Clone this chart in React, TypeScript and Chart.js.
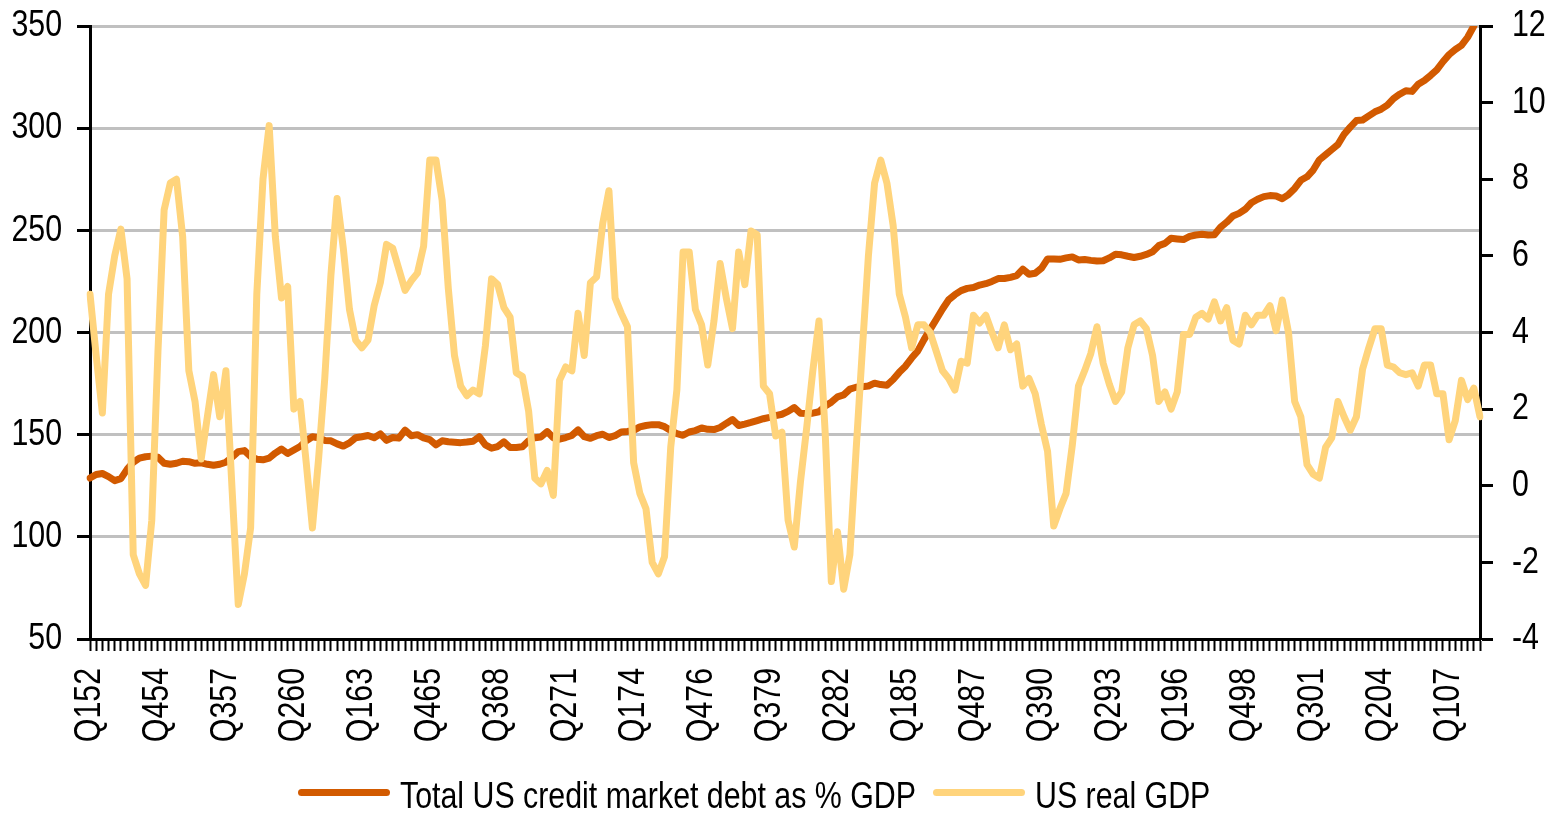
import React, { useEffect, useRef } from 'react';
import { Chart, registerables } from 'chart.js';

Chart.register(...registerables);

// Quarterly categories, Q1 1952 .. Q2 2008 (label format "Q" + quarter + 2-digit year)
const FIRST_YEAR = 1952;
const N_QUARTERS = 226;
const QUARTERS: string[] = Array.from({ length: N_QUARTERS }, (_, i) => {
  const y = FIRST_YEAR + Math.floor(i / 4);
  return `Q${(i % 4) + 1}${String(y % 100).padStart(2, '0')}`;
});
const LABEL_EVERY = 11;

// Total US credit market debt as % of GDP (left axis)
const DEBT: number[] = [
  128.8, 130.5, 131, 129.5, 127.5, 128.5, 133, 136.5, 138.5, 139.2,
  139.5, 139, 136, 135.5, 136, 137, 136.8, 136, 136.2, 135.5,
  135, 135.5, 136.5, 139, 141.7, 142.2, 139.3, 138, 137.7, 138.5,
  141, 143, 140.8, 142.5, 144.2, 147, 149, 148.5, 147.2, 147,
  145.5, 144.4, 146, 148.5, 149, 149.6, 148.5, 150.4, 147.2, 148.6,
  148.3, 152.2, 149.5, 150, 148.4, 147.6, 145, 147, 146.5, 146.3,
  146.1, 146.4, 146.8, 149, 145, 143.4, 144.2, 146.5, 143.7, 143.7,
  144.1, 147, 148.5, 148.9, 151.5, 148.5, 147.8, 148.6, 149.6, 152.3,
  149, 148.2, 149.5, 150.2, 148.6, 149.5, 151.3, 151.6, 152.1, 153.8,
  154.5, 154.9, 154.9, 153.9, 152, 150.5, 149.7, 151.3, 152, 153.3,
  152.6, 152.5, 153.5, 155.5, 157.4, 154.5, 155.2, 156, 156.9, 157.8,
  158.5, 159.3, 160, 161.4, 163.3, 160.5, 160.4, 160.5, 161.2, 164,
  165.9, 168.5, 169.5, 172.3, 173.2, 173.5, 173.8, 175.2, 174.5, 174.2,
  177, 180.5, 183.5, 187.5, 191, 196.5, 201.5, 206.5, 211.5, 216,
  218.5, 220.5, 221.6, 222, 223.2, 223.9, 225, 226.4, 226.4, 227,
  227.8, 231, 228.5, 229, 231.4, 236, 236, 235.8, 236.5, 237,
  235.5, 235.7, 235.3, 235, 235.1, 236.5, 238.3, 238, 237.3, 236.7,
  237.3, 238.2, 239.5, 242.5, 243.6, 246.1, 245.8, 245.5, 247, 247.7,
  248.1, 247.7, 247.8, 251.5, 254, 257, 258.3, 260.3, 263.5, 265.2,
  266.5, 267, 266.8, 265.5, 267.5, 270.5, 274.5, 276.2, 279.5, 284.5,
  287, 289.5, 292, 297, 300.5, 303.7, 304, 306, 308, 309.3,
  311.3, 314.5, 316.6, 318.3, 318, 321.5, 323.3, 325.8, 328.5, 332.5,
  336, 338.5, 340.5, 344.5, 350,
];

// US real GDP, % y/y (right axis)
const GDP: number[] = [
  5.0, 3.4, 1.9, 5.0, 6.0, 6.7, 5.4, -1.8, -2.3, -2.6,
  -0.9, 3.5, 7.2, 7.9, 8.0, 6.5, 3.0, 2.2, 0.7, 1.8,
  2.9, 1.8, 3.0, -0.1, -3.1, -2.3, -1.1, 5.0, 8.0, 9.4,
  6.5, 4.9, 5.2, 2.0, 2.2, 0.6, -1.1, 0.7, 2.8, 5.5,
  7.5, 6.2, 4.6, 3.8, 3.6, 3.8, 4.7, 5.3, 6.3, 6.2,
  5.65, 5.1, 5.35, 5.55, 6.25, 8.5, 8.5, 7.45, 5.15, 3.4,
  2.6, 2.35, 2.5, 2.4, 3.65, 5.4, 5.25, 4.65, 4.4, 2.95,
  2.85, 1.95, 0.2, 0.05, 0.4, -0.25, 2.75, 3.1, 3.0, 4.5,
  3.4, 5.3, 5.45, 6.85, 7.7, 4.9, 4.5, 4.15, 0.6, -0.2,
  -0.6, -2.0, -2.3, -1.85, 1.0, 2.5, 6.1, 6.1, 4.6, 4.2,
  3.15, 4.3, 5.8, 4.9, 4.1, 6.1, 5.25, 6.65, 6.55, 2.6,
  2.4, 1.3, 1.4, -0.9, -1.6, 0.1, 1.5, 3.0, 4.3, 1.4,
  -2.5, -1.2, -2.7, -1.8, 0.9, 3.5, 6.0, 7.9, 8.5, 7.9,
  6.8, 5.0, 4.4, 3.6, 4.2, 4.2, 4.0, 3.5, 3.0, 2.8,
  2.5, 3.25, 3.2, 4.45, 4.25, 4.45, 4.0, 3.6, 4.2, 3.55,
  3.7, 2.6, 2.8, 2.4, 1.6, 0.9, -1.05, -0.6, -0.2, 1.05,
  2.6, 3.0, 3.45, 4.15, 3.2, 2.65, 2.2, 2.45, 3.6, 4.2,
  4.3, 4.1, 3.4, 2.2, 2.45, 2.0, 2.45, 3.95, 3.95, 4.4,
  4.5, 4.35, 4.8, 4.3, 4.65, 3.8, 3.7, 4.45, 4.2, 4.45,
  4.45, 4.7, 4.05, 4.85, 4.0, 2.2, 1.8, 0.55, 0.3, 0.2,
  1.0, 1.25, 2.2, 1.8, 1.45, 1.8, 3.05, 3.6, 4.1, 4.1,
  3.15, 3.1, 2.95, 2.9, 2.95, 2.6, 3.15, 3.15, 2.4, 2.4,
  1.2, 1.7, 2.75, 2.25, 2.55, 1.8,
];

const SERIES_NAMES = ['Total US credit market debt as % GDP', 'US real GDP'];
const COLORS = ['#D25A00', '#FFD47C'];

const FONT_FAMILY = '"Liberation Sans Narrow", "Arial Narrow", "Liberation Sans", Arial, sans-serif';
const FONT_SIZE = 37;
const NARROW = 0.82; // horizontal condensing to mimic a narrow typeface

function drawNarrowText(
  ctx: CanvasRenderingContext2D,
  text: string,
  x: number,
  y: number,
  align: CanvasTextAlign,
  rotation: number,
) {
  ctx.save();
  ctx.translate(x, y);
  if (rotation) ctx.rotate(rotation);
  ctx.scale(NARROW, 1);
  ctx.textAlign = align;
  ctx.textBaseline = 'middle';
  ctx.fillText(text, 0, 0);
  ctx.restore();
}

// Draws the tick labels of the chart's own scales, condensed horizontally.
const narrowTickLabels = {
  id: 'narrowTickLabels',
  afterDraw(chart: any) {
    const ctx: CanvasRenderingContext2D = chart.ctx;
    const area = chart.chartArea;
    ctx.save();
    ctx.fillStyle = '#000';
    ctx.font = `${FONT_SIZE}px ${FONT_FAMILY}`;
    const ys = chart.scales.y;
    ys.ticks.forEach((t: any, i: number) => {
      drawNarrowText(ctx, String(t.label), area.left - 28, ys.getPixelForTick(i), 'right', 0);
    });
    const yr = chart.scales.y1;
    yr.ticks.forEach((t: any, i: number) => {
      drawNarrowText(ctx, String(t.label), area.right + 32, yr.getPixelForTick(i), 'left', 0);
    });
    const xs = chart.scales.x;
    xs.ticks.forEach((t: any, i: number) => {
      if (!t.label) return;
      drawNarrowText(ctx, String(t.label), xs.getPixelForTick(i), area.bottom + 29, 'right', -Math.PI / 2);
    });
    ctx.restore();
  },
};

export default function App() {
  const canvasRef = useRef<HTMLCanvasElement | null>(null);

  useEffect(() => {
    if (!canvasRef.current) return;
    const chart = new Chart(canvasRef.current, {
      type: 'line',
      data: {
        labels: QUARTERS,
        datasets: [
          {
            label: SERIES_NAMES[0],
            data: DEBT,
            yAxisID: 'y',
            borderColor: COLORS[0],
            backgroundColor: COLORS[0],
            borderWidth: 7,
            borderJoinStyle: 'round',
            borderCapStyle: 'round',
            pointRadius: 0,
            tension: 0,
            order: 1,
          },
          {
            label: SERIES_NAMES[1],
            data: GDP,
            yAxisID: 'y1',
            borderColor: COLORS[1],
            backgroundColor: COLORS[1],
            borderWidth: 7,
            borderJoinStyle: 'round',
            borderCapStyle: 'round',
            pointRadius: 0,
            tension: 0,
            order: 0,
          },
        ],
      },
      options: {
        animation: false,
        responsive: true,
        maintainAspectRatio: false,
        layout: { padding: { left: 0, right: 0, top: 26, bottom: 68 } },
        plugins: {
          legend: { display: false },
          tooltip: { enabled: false },
        },
        scales: {
          x: {
            type: 'category',
            offset: false,
            afterFit: (s: any) => { s.height = 106; },
            border: { display: true, color: '#000', width: 3 },
            grid: {
              display: true,
              drawOnChartArea: false,
              drawTicks: true,
              tickLength: 12,
              tickColor: '#000',
              tickWidth: 2,
              color: '#000',
            },
            ticks: {
              display: false,
              autoSkip: false,
              maxRotation: 90,
              minRotation: 90,
              callback: (_v: any, i: number) => (i % LABEL_EVERY === 0 ? QUARTERS[i] : ''),
            },
          },
          y: {
            position: 'left',
            min: 50,
            max: 350,
            afterFit: (s: any) => { s.width = 90; },
            border: { display: true, color: '#000', width: 3 },
            grid: {
              color: '#C0C0C0',
              lineWidth: 3,
              tickColor: '#000',
              tickWidth: 3,
              tickLength: 13,
            },
            ticks: { display: false, stepSize: 50 },
          },
          y1: {
            position: 'right',
            min: -4,
            max: 12,
            afterFit: (s: any) => { s.width = 74; },
            border: { display: true, color: '#000', width: 3 },
            grid: {
              drawOnChartArea: false,
              tickColor: '#000',
              tickWidth: 3,
              tickLength: 13,
            },
            ticks: { display: false, stepSize: 2 },
          },
        },
      },
      plugins: [narrowTickLabels],
    });
    return () => chart.destroy();
  }, []);

  const legendText: React.CSSProperties = {
    position: 'absolute',
    top: 777,
    fontFamily: FONT_FAMILY,
    fontSize: FONT_SIZE,
    lineHeight: `${FONT_SIZE}px`,
    color: '#000',
    whiteSpace: 'nowrap',
    transform: `scaleX(${NARROW})`,
    transformOrigin: 'left center',
  };
  const legendLine = (left: number, color: string): React.CSSProperties => ({
    position: 'absolute',
    left,
    top: 789,
    width: 92,
    height: 7,
    borderRadius: 4,
    background: color,
  });

  return (
    <div style={{ position: 'fixed', left: 0, top: 0, width: 1554, height: 813, background: '#fff' }}>
      <canvas ref={canvasRef} />
      <div style={legendLine(298, COLORS[0])} />
      <div style={{ ...legendText, left: 400 }}>{SERIES_NAMES[0]}</div>
      <div style={legendLine(933, COLORS[1])} />
      <div style={{ ...legendText, left: 1035 }}>{SERIES_NAMES[1]}</div>
    </div>
  );
}
